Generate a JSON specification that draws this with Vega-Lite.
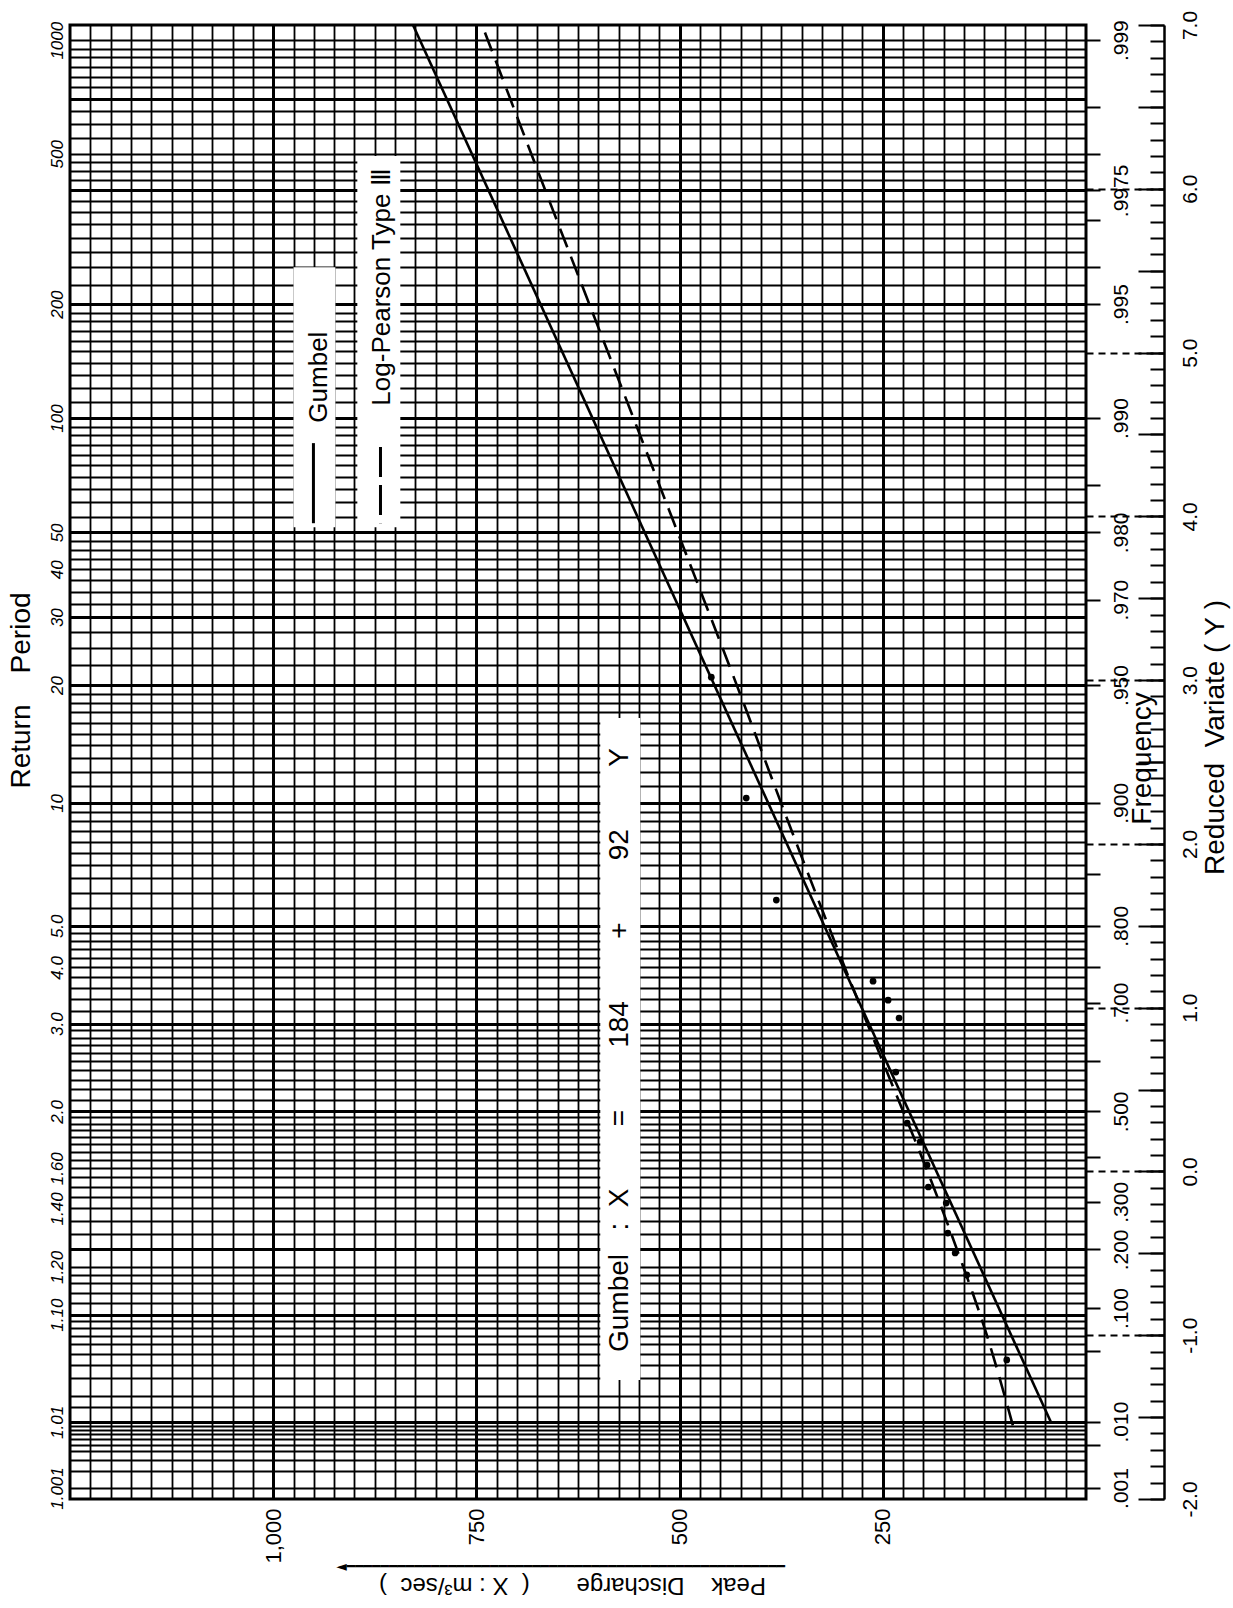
{
  "$schema": "https://vega.github.io/schema/vega-lite/v6.json",
  "width": 1016,
  "height": 1474,
  "autosize": {"type": "none"},
  "padding": {"left": 70, "top": 25, "right": 147, "bottom": 109},
  "background": "#ffffff",
  "config": {
    "view": {"stroke": "#000000", "strokeWidth": 3},
    "axis": {
      "labelFont": "Liberation Sans",
      "titleFont": "Liberation Sans",
      "labelColor": "#000000",
      "titleColor": "#000000",
      "tickColor": "#000000",
      "domainColor": "#000000",
      "gridColor": "#000000",
      "gridOpacity": 1,
      "labelOverlap": false,
      "labelFlush": false,
      "labelBound": false,
      "titleFontWeight": "normal"
    },
    "text": {"font": "Liberation Sans", "color": "#000000"}
  },
  "datasets": {
    "observed": [
      {"X": 461, "Y": 3.018},
      {"X": 418, "Y": 2.28},
      {"X": 381, "Y": 1.657},
      {"X": 262, "Y": 1.162},
      {"X": 243.5, "Y": 1.046},
      {"X": 230, "Y": 0.937},
      {"X": 234, "Y": 0.607},
      {"X": 220, "Y": 0.295},
      {"X": 204, "Y": 0.18},
      {"X": 195.5, "Y": 0.039},
      {"X": 194, "Y": -0.095},
      {"X": 172, "Y": -0.193},
      {"X": 170, "Y": -0.376},
      {"X": 161, "Y": -0.498},
      {"X": 146.7, "Y": -0.632},
      {"X": 97.5, "Y": -1.151}
    ],
    "gumbel": [
      {"X": 43.24, "Y": -1.53},
      {"X": 828, "Y": 7.0}
    ],
    "logPearson": [
      {"X": 90, "Y": -1.55},
      {"X": 122, "Y": -1.0},
      {"X": 157, "Y": -0.5},
      {"X": 195, "Y": 0.0},
      {"X": 236, "Y": 0.5},
      {"X": 277, "Y": 1.0},
      {"X": 356, "Y": 2.0},
      {"X": 432, "Y": 3.0},
      {"X": 510, "Y": 4.0},
      {"X": 588, "Y": 5.0},
      {"X": 666, "Y": 6.0},
      {"X": 743, "Y": 7.0}
    ]
  },
  "layer": [
    {
      "data": {"values": [{}]},
      "mark": {"type": "rect", "fill": "#ffffff"},
      "encoding": {
        "x": {"datum": 975, "type": "quantitative", "scale": {"domain": [0, 1250], "reverse": true, "nice": false, "zero": false}, "axis": null},
        "x2": {"datum": 923.5},
        "y": {"datum": 5.521, "type": "quantitative", "scale": {"domain": [-2, 7], "nice": false, "zero": false}, "axis": null},
        "y2": {"datum": 3.934}
      }
    },
    {
      "data": {"values": [{}]},
      "mark": {"type": "rect", "fill": "#ffffff"},
      "encoding": {
        "x": {"datum": 896.5, "type": "quantitative", "axis": null},
        "x2": {"datum": 843.6},
        "y": {"datum": 6.2, "type": "quantitative", "axis": null},
        "y2": {"datum": 3.934}
      }
    },
    {
      "data": {"values": [{}]},
      "mark": {"type": "rect", "fill": "#ffffff"},
      "encoding": {
        "x": {"datum": 597.6, "type": "quantitative", "axis": null},
        "x2": {"datum": 548.4},
        "y": {"datum": 2.768, "type": "quantitative", "axis": null},
        "y2": {"datum": -1.273}
      }
    },
    {
      "data": {"values": [{}]},
      "mark": {"type": "text", "text": "Gumbel", "angle": 270, "align": "center", "baseline": "middle", "fontSize": 26},
      "encoding": {
        "x": {"datum": 944, "type": "quantitative", "axis": null},
        "y": {
          "datum": 4.85,
          "type": "quantitative",
          "axis": {
            "orient": "right",
            "offset": 0,
            "values": [-1, 0, 1, 2, 3, 4, 5, 6],
            "domain": false,
            "grid": false,
            "labels": false,
            "ticks": true,
            "tickSize": 78,
            "tickWidth": 1.8,
            "tickDash": [7, 5],
            "title": null
          }
        }
      }
    },
    {
      "data": {"values": [{}]},
      "mark": {"type": "text", "text": "Log-Pearson Type Ⅲ", "angle": 270, "align": "center", "baseline": "middle", "fontSize": 26},
      "encoding": {
        "x": {"datum": 866, "type": "quantitative", "axis": null},
        "y": {
          "datum": 5.4,
          "type": "quantitative",
          "axis": {
            "orient": "right",
            "offset": 78,
            "tickCount": 18,
            "domain": false,
            "grid": false,
            "labels": false,
            "ticks": true,
            "tickSize": -26,
            "tickWidth": 2,
            "title": null
          }
        }
      }
    },
    {
      "data": {"values": [{}]},
      "mark": {"type": "text", "text": "Gumbel\u00a0\u00a0\u00a0:\u00a0\u00a0X\u00a0\u00a0\u00a0\u00a0\u00a0\u00a0\u00a0\u00a0=\u00a0\u00a0\u00a0\u00a0\u00a0\u00a0\u00a0\u00a0184\u00a0\u00a0\u00a0\u00a0\u00a0\u00a0\u00a0\u00a0+\u00a0\u00a0\u00a0\u00a0\u00a0\u00a0\u00a0\u00a092\u00a0\u00a0\u00a0\u00a0\u00a0\u00a0\u00a0\u00a0Y", "angle": 270, "align": "center", "baseline": "middle", "fontSize": 28},
      "encoding": {
        "x": {"datum": 573, "type": "quantitative", "axis": null},
        "y": {"datum": 0.741, "type": "quantitative", "axis": null}
      }
    },
    {
      "data": {"values": [{}]},
      "mark": {"type": "rule", "color": "#000000", "strokeWidth": 3},
      "encoding": {
        "x": {"datum": 950.5, "type": "quantitative", "axis": null},
        "y": {
          "datum": 4.447,
          "type": "quantitative",
          "axis": {
            "orient": "right",
            "offset": 78,
            "tickCount": 90,
            "domain": true,
            "domainWidth": 2.5,
            "grid": false,
            "ticks": true,
            "tickSize": -14,
            "tickWidth": 2,
            "labels": true,
            "labelExpr": "abs(datum.value - round(datum.value)) < 0.001 ? (datum.value < -0.5 ? '-' + format(-datum.value, '.1f') : format(abs(datum.value), '.1f')) : ''",
            "labelAngle": 270,
            "labelAlign": "center",
            "labelBaseline": "alphabetic",
            "labelPadding": 46,
            "labelFontSize": 21,
            "title": "Reduced\u00a0\u00a0Variate\u00a0(\u00a0Y\u00a0)",
            "titleFontSize": 28,
            "titleAngle": 270,
            "titleAlign": "center",
            "titleBaseline": "middle",
            "titleX": 51,
            "titleY": 712
          }
        },
        "y2": {"datum": 3.958}
      }
    },
    {
      "data": {"values": [{}]},
      "mark": {"type": "rule", "color": "#000000", "strokeWidth": 3, "strokeDash": [30, 8]},
      "encoding": {
        "x": {"datum": 868, "type": "quantitative", "axis": null},
        "y": {"datum": 4.423, "type": "quantitative", "axis": null},
        "y2": {"datum": 3.958}
      }
    },
    {
      "data": {"name": "gumbel"},
      "mark": {"type": "line", "color": "#000000", "strokeWidth": 2.6},
      "encoding": {
        "x": {
          "field": "X",
          "type": "quantitative",
          "scale": {"domain": [0, 1250], "reverse": true, "nice": false, "zero": false},
          "axis": {
            "orient": "bottom",
            "values": [25, 50, 75, 100, 125, 150, 175, 200, 225, 250, 275, 300, 325, 350, 375, 400, 425, 450, 475, 500, 525, 550, 575, 600, 625, 650, 675, 700, 725, 750, 775, 800, 825, 850, 875, 900, 925, 950, 975, 1000, 1025, 1050, 1075, 1100, 1125, 1150, 1175, 1200, 1225],
            "grid": true,
            "gridWidth": 1.8,
            "domain": false,
            "ticks": false,
            "tickSize": 0,
            "labels": true,
            "labelExpr": "datum.value % 250 == 0 ? format(datum.value, ',') : ''",
            "labelAngle": 270,
            "labelAlign": "right",
            "labelBaseline": "middle",
            "labelPadding": 9,
            "labelFontSize": 22,
            "title": "Peak\u00a0\u00a0\u00a0\u00a0Discharge\u00a0\u00a0\u00a0\u00a0\u00a0\u00a0\u00a0(\u00a0\u00a0X\u00a0:\u00a0m³/sec\u00a0\u00a0)",
            "titleFontSize": 24,
            "titleAngle": 180,
            "titleAlign": "center",
            "titleBaseline": "top",
            "titleX": 502,
            "titleY": 97
          }
        },
        "y": {
          "field": "Y",
          "type": "quantitative",
          "scale": {"domain": [-2, 7], "nice": false, "zero": false},
          "axis": {
            "orient": "left",
            "values": [-1.9328, -1.8272, -1.76, -1.7094, -1.6683, -1.6335, -1.6032, -1.5762, -1.5517, -1.5293, -1.4386, -1.3691, -1.2631, -1.1812, -1.1133, -1.0549, -1.0032, -0.9566, -0.9139, -0.8746, -0.8036, -0.7406, -0.6836, -0.6314, -0.5832, -0.4759, -0.3828, -0.3, -0.2253, -0.1571, -0.094, -0.0355, 0.0194, 0.0709, 0.1196, 0.1657, 0.2095, 0.2514, 0.2914, 0.3297, 0.3665, 0.436, 0.5007, 0.5612, 0.618, 0.6717, 0.7226, 0.7708, 0.8168, 0.8607, 0.9027, 0.9817, 1.0547, 1.1226, 1.1862, 1.2459, 1.3022, 1.3555, 1.406, 1.4541, 1.4999, 1.6061, 1.702, 1.7895, 1.8698, 1.9442, 2.0134, 2.0781, 2.1389, 2.1962, 2.2504, 2.3506, 2.4417, 2.5252, 2.6022, 2.6737, 2.7404, 2.803, 2.8619, 2.9174, 2.9702, 3.0908, 3.1985, 3.2957, 3.3843, 3.4657, 3.5409, 3.6109, 3.6763, 3.7376, 3.7954, 3.8501, 3.9019, 3.9982, 4.0859, 4.1666, 4.2412, 4.3107, 4.3757, 4.4367, 4.4942, 4.5485, 4.6001, 4.696, 4.7833, 4.8637, 4.938, 5.0073, 5.0721, 5.1329, 5.1902, 5.2444, 5.2958, 5.4139, 5.5195, 5.615, 5.7021, 5.7823, 5.8565, 5.9256, 5.9902, 6.0509, 6.1081, 6.1623, 6.2136, 6.309, 6.3961, 6.4762, 6.5504, 6.6194, 6.684, 6.7446, 6.8018, 6.856, 6.9073],
            "grid": true,
            "gridWidth": 1.8,
            "domain": false,
            "ticks": false,
            "tickSize": 0,
            "labels": true,
            "labelExpr": "indexof([-1.9328,-1.5293,-0.8746,-0.5832,-0.2253,0.0194,0.3665,0.9027,1.2459,1.4999,2.2504,2.9702,3.3843,3.6763,3.9019,4.6001,5.2958,6.2136,6.9073], datum.value) >= 0 ? ['1.001','1.01','1.10','1.20','1.40','1.60','2.0','3.0','4.0','5.0','10','20','30','40','50','100','200','500','1000'][indexof([-1.9328,-1.5293,-0.8746,-0.5832,-0.2253,0.0194,0.3665,0.9027,1.2459,1.4999,2.2504,2.9702,3.3843,3.6763,3.9019,4.6001,5.2958,6.2136,6.9073], datum.value)] : ''",
            "labelAngle": 270,
            "labelAlign": "center",
            "labelBaseline": "alphabetic",
            "labelPadding": 8,
            "labelFontSize": 17,
            "labelFontStyle": "italic",
            "title": "Return\u00a0\u00a0\u00a0\u00a0Period",
            "titleFontSize": 28,
            "titleAngle": 270,
            "titleAlign": "center",
            "titleBaseline": "middle",
            "titleX": -49,
            "titleY": 665
          }
        },
        "order": {"field": "Y", "type": "quantitative"}
      }
    },
    {
      "data": {"name": "logPearson"},
      "mark": {"type": "line", "color": "#000000", "strokeWidth": 2.6, "strokeDash": [20, 10], "interpolate": "monotone"},
      "encoding": {
        "x": {
          "field": "X",
          "type": "quantitative",
          "axis": {
            "orient": "bottom",
            "values": [250, 500, 750, 1000],
            "grid": true,
            "gridWidth": 3,
            "domain": false,
            "ticks": false,
            "labels": false,
            "title": "◄━━━━━━━━━━━━━━━━━━━━━━━━━━━━━━━━━━━━━━━━━━━━━━━━━━━━",
            "titleFont": "DejaVu Sans",
            "titleFontSize": 14,
            "titleAngle": 0,
            "titleAlign": "center",
            "titleBaseline": "middle",
            "titleX": 490,
            "titleY": 67
          }
        },
        "y": {
          "field": "Y",
          "type": "quantitative",
          "axis": {
            "orient": "left",
            "values": [-1.5293, -0.8746, -0.4759, 0.3665, 0.9027, 1.4999, 2.2504, 2.9702, 3.3843, 3.9019, 4.6001, 5.2958, 5.9902, 6.5504],
            "grid": true,
            "gridWidth": 3,
            "domain": false,
            "ticks": false,
            "labels": false,
            "title": null
          }
        },
        "order": {"field": "Y", "type": "quantitative"}
      }
    },
    {
      "data": {"name": "observed"},
      "mark": {"type": "circle", "color": "#000000", "opacity": 1, "size": 45},
      "encoding": {
        "x": {"field": "X", "type": "quantitative", "axis": null},
        "y": {
          "field": "Y",
          "type": "quantitative",
          "axis": {
            "orient": "right",
            "offset": 0,
            "values": [-1.9327, -1.6674, -1.5272, -1.0972, -0.834, -0.4759, -0.1856, 0.0874, 0.3665, 0.6717, 1.0309, 1.2459, 1.4999, 1.8169, 2.2504, 2.9702, 3.4913, 3.9019, 4.1921, 4.6001, 5.2958, 5.5195, 5.8078, 5.9902, 6.2136, 6.5015, 6.9073],
            "grid": false,
            "domain": false,
            "ticks": true,
            "tickSize": 14,
            "tickWidth": 2,
            "labels": true,
            "labelExpr": "indexof([-1.9327,-1.5272,-0.834,-0.4759,-0.1856,0.3665,1.0309,1.4999,2.2504,2.9702,3.4913,3.9019,4.6001,5.2958,5.9902,6.9073], datum.value) >= 0 ? ['.001','.010','.100','.200','.300','.500','.700','.800','.900','.950','.970','.980','.990','.995','.9975','.999'][indexof([-1.9327,-1.5272,-0.834,-0.4759,-0.1856,0.3665,1.0309,1.4999,2.2504,2.9702,3.4913,3.9019,4.6001,5.2958,5.9902,6.9073], datum.value)] : ''",
            "labelAngle": 270,
            "labelAlign": "center",
            "labelBaseline": "alphabetic",
            "labelPadding": 27,
            "labelFontSize": 21,
            "title": "Frequency",
            "titleFontSize": 28,
            "titleAngle": 270,
            "titleAlign": "center",
            "titleBaseline": "middle",
            "titleX": 56,
            "titleY": 733
          }
        }
      }
    }
  ],
  "resolve": {"axis": {"x": "independent", "y": "independent"}}
}
